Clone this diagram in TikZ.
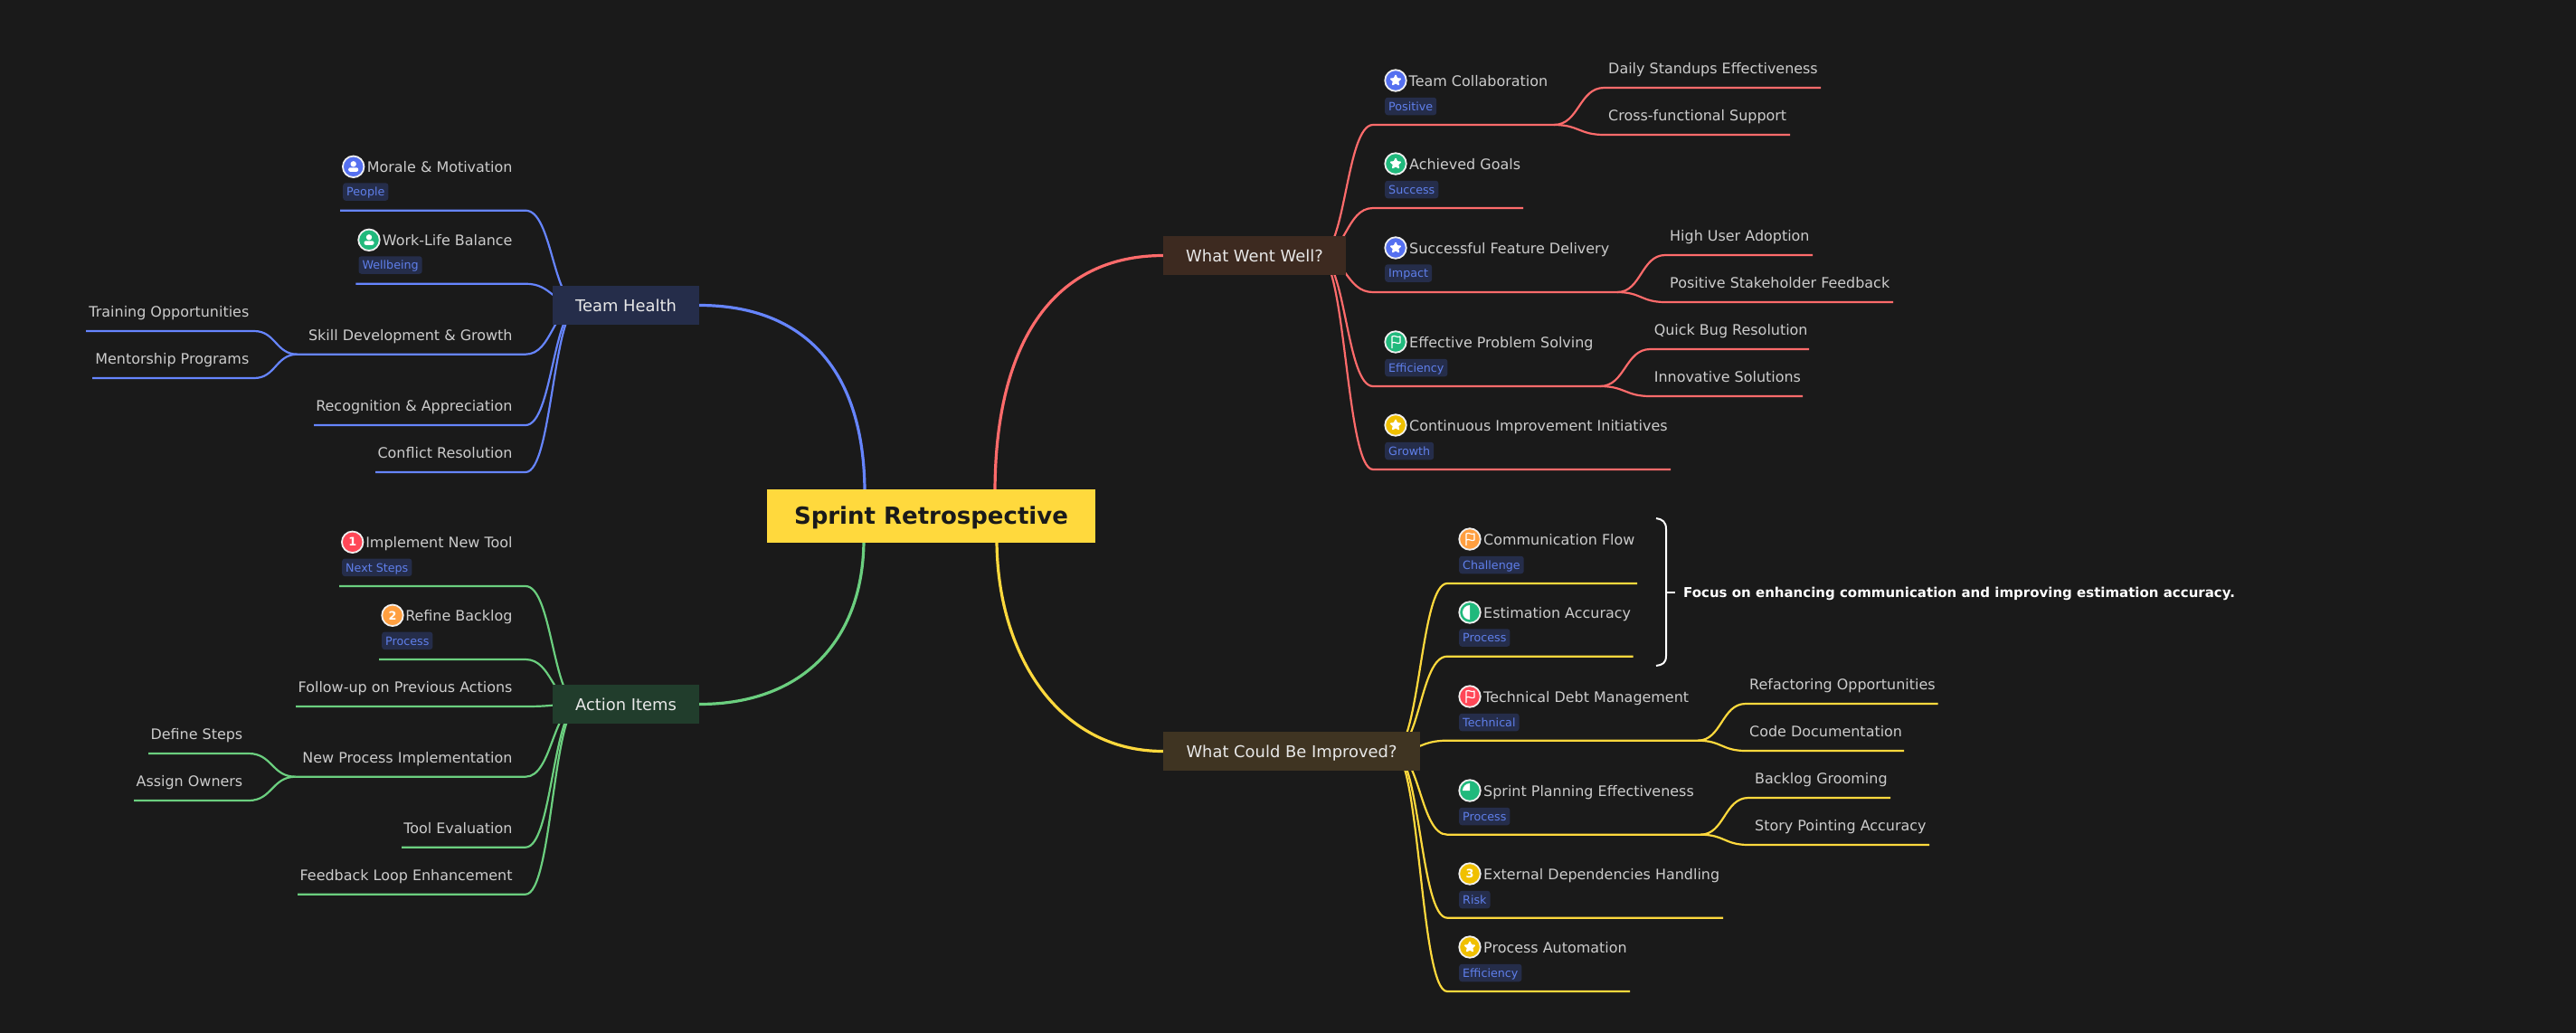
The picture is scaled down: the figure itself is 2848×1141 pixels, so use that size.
\documentclass[tikz,border=0pt]{standalone}
\usepackage{fontspec}
\setmainfont{DejaVu Sans}
\usetikzlibrary{backgrounds, calc, shapes.geometric}

\definecolor{pagebg}{HTML}{1A1A1A}
\definecolor{rootyellow}{HTML}{FFD93D}
\definecolor{redline}{HTML}{FF6B6B}
\definecolor{blueline}{HTML}{6685FF}
\definecolor{greenline}{HTML}{6BCF7F}
\definecolor{thfill}{HTML}{252D4A}
\definecolor{aifill}{HTML}{213D2C}
\definecolor{wwwfill}{HTML}{3D2A20}
\definecolor{wcbifill}{HTML}{3F3422}
\definecolor{tagtext}{HTML}{5F7FEA}
\definecolor{iconblue}{HTML}{5570F0}
\definecolor{icongreen}{HTML}{20B97C}
\definecolor{iconyellow}{HTML}{F0C000}
\definecolor{iconorange}{HTML}{FF9F40}
\definecolor{iconred}{HTML}{FF4757}

\tikzset{
  mindlink/.style={to path={.. controls ($(\tikztostart)!0.5!(\tikztotarget |- \tikztostart)$) and ($(\tikztotarget)!0.5!(\tikztostart |- \tikztotarget)$) .. (\tikztotarget)}},
  topicbox/.style={rectangle, inner sep=0pt, minimum height=43pt, text=black!9, text height=13.6pt, text depth=0pt, font=\fontsize{17.9}{20}\selectfont},
  leaftext/.style={inner sep=0pt, text=black!20, text height=12pt, text depth=0pt, font=\fontsize{15.95}{19}\selectfont},
  tagbox/.style={rectangle, rounded corners=3pt, fill=thfill, text=tagtext, inner xsep=4pt, inner ysep=0pt, minimum height=19.5pt, text height=9.4pt, text depth=0pt, anchor=west, font=\fontsize{12.7}{15}\selectfont},
  iconbox/.style={circle, draw=black!6, line width=1.8pt, inner sep=0pt, minimum size=23.5pt, text=white, font=\bfseries\fontsize{12.8}{15}\selectfont},
  starmark/.style={star, star points=5, star point ratio=2.1, inner sep=0pt, minimum size=11pt, fill=white, draw=white, line width=1.6pt, line join=round},
  flagmark/.pic={
    \draw[white, line width=1.2pt, line join=round] (-4,7) -- (-4,-6) .. controls (-1,-8) and (2,-4) .. (5,-6) -- (5,1) .. controls (2,3) and (-1,-1) .. (-4,1);
  },
  personmark/.pic={
    \fill[white] (0,-3) circle (3.2pt);
    \fill[white, rounded corners=2pt] (-5.5,5.5) -- (-5.5,1) -- (5.5,1) -- (5.5,5.5) -- cycle;
  },
  halfmark/.pic={
    \fill[white] (0,-8) arc (90:270:8pt) -- cycle;
  },
  piemark/.pic={
    \fill[white] (0,0) -- (-8,0) arc (180:90:8pt) -- cycle;
  },
}

\begin{document}
\begin{tikzpicture}[x=1pt, y=-1pt]
    \useasboundingbox (0,0) rectangle (2848,1141);

    % Centre and the four topics
    \node[rectangle, inner sep=0pt, minimum width=363pt, minimum height=59pt, fill=rootyellow, text=pagebg, text height=22pt, text depth=5pt, font=\bfseries\fontsize{26}{30}\selectfont] (root) at (1029.5,570.5) {Sprint Retrospective};
    \node[topicbox, minimum width=162pt, fill=thfill] (th) at (692,337.5) {Team Health};
    \node[topicbox, minimum width=162pt, fill=aifill] (ai) at (692,778.5) {Action Items};
    \node[topicbox, minimum width=202pt, fill=wwwfill] (www) at (1387,282.5) {What Went Well?};
    \node[topicbox, minimum width=284pt, fill=wcbifill] (wcbi) at (1428,830.5) {What Could Be Improved?};

    % Where the branches leave each topic
    \coordinate (thOut) at ([xshift=30pt]th.west);
    \coordinate (aiOut) at ([xshift=30pt]ai.west);
    \coordinate (wwwOut) at ([xshift=-30pt]www.east);
    \coordinate (wcbiOut) at ([xshift=-30pt]wcbi.east);
    \coordinate (rootA) at (956,545);
    \coordinate (rootB) at (1100,545);
    \coordinate (rootC) at (955,596);
    \coordinate (rootD) at (1102,596);

    % Ends of the underlines, What Went Well?
    \coordinate (tcIn) at (1518,138);      \coordinate (tcEnd) at (1718,138);
    \coordinate (dsIn) at (1773.5,97);     \coordinate (dsEnd) at (2013,97);
    \coordinate (cfIn) at (1773.5,149);    \coordinate (cfEnd) at (1979,149);
    \coordinate (agIn) at (1518,230);      \coordinate (agEnd) at (1684,230);
    \coordinate (sfIn) at (1518,323);      \coordinate (sfEnd) at (1788,323);
    \coordinate (huIn) at (1841,282);      \coordinate (huEnd) at (2004,282);
    \coordinate (psIn) at (1841,334);      \coordinate (psEnd) at (2093,334);
    \coordinate (epIn) at (1518,427);      \coordinate (epEnd) at (1769,427);
    \coordinate (qbIn) at (1824.5,386);    \coordinate (qbEnd) at (2000,386);
    \coordinate (isIn) at (1824.5,438);    \coordinate (isEnd) at (1993,438);
    \coordinate (ciIn) at (1518,519);      \coordinate (ciEnd) at (1847,519);

    % Ends of the underlines, What Could Be Improved?
    \coordinate (cmIn) at (1600,645);      \coordinate (cmEnd) at (1810,645);
    \coordinate (eaIn) at (1600,725.7);    \coordinate (eaEnd) at (1805.6,725.7);
    \coordinate (tdIn) at (1600,818.7);    \coordinate (tdEnd) at (1877,818.7);
    \coordinate (roIn) at (1930,778);      \coordinate (roEnd) at (2142.6,778);
    \coordinate (cdIn) at (1930,830);      \coordinate (cdEnd) at (2105,830);
    \coordinate (spIn) at (1600,922.7);    \coordinate (spEnd) at (1880,922.7);
    \coordinate (bgIn) at (1933,882);      \coordinate (bgEnd) at (2090,882);
    \coordinate (stIn) at (1933,934);      \coordinate (stEnd) at (2133,934);
    \coordinate (exIn) at (1600,1014.7);   \coordinate (exEnd) at (1905,1014.7);
    \coordinate (paIn) at (1600,1096);     \coordinate (paEnd) at (1802,1096);

    % Ends of the underlines, Team Health
    \coordinate (moIn) at (581,232.7);     \coordinate (moEnd) at (376,232.7);
    \coordinate (wlIn) at (581,313.7);     \coordinate (wlEnd) at (393.3,313.7);
    \coordinate (skIn) at (581,391.7);     \coordinate (skEnd) at (328.8,391.7);
    \coordinate (trIn) at (281,366);       \coordinate (trEnd) at (95,366);
    \coordinate (mpIn) at (281,418);       \coordinate (mpEnd) at (102,418);
    \coordinate (rcIn) at (581,470);       \coordinate (rcEnd) at (347,470);
    \coordinate (crIn) at (581,522);       \coordinate (crEnd) at (415,522);

    % Ends of the underlines, Action Items
    \coordinate (inIn) at (581,648);       \coordinate (inEnd) at (375,648);
    \coordinate (rbIn) at (581,729);       \coordinate (rbEnd) at (419,729);
    \coordinate (fuIn) at (581,781);       \coordinate (fuEnd) at (327,781);
    \coordinate (npIn) at (581,858.7);     \coordinate (npEnd) at (326.7,858.7);
    \coordinate (dfIn) at (275,833);       \coordinate (dfEnd) at (164,833);
    \coordinate (aoIn) at (275,885);       \coordinate (aoEnd) at (148,885);
    \coordinate (teIn) at (581,936.7);     \coordinate (teEnd) at (444,936.7);
    \coordinate (fbIn) at (581,988.7);     \coordinate (fbEnd) at (329,988.7);

    \begin{scope}[on background layer]
        \fill[pagebg] (-6,-6) rectangle (2854,1147);

        % Main curves
        \draw[blueline, line width=3.2pt] (th.east) .. controls (890,337.5) and (956,410) .. (rootA);
        \draw[greenline, line width=3.2pt] (ai.east) .. controls (890,778.5) and (955,705) .. (rootC);
        \draw[redline, line width=3.2pt] (www.west) .. controls (1167,282.5) and (1100,375) .. (rootB);
        \draw[rootyellow, line width=3.2pt] (wcbi.west) .. controls (1169,830.5) and (1102,722) .. (rootD);

        % Red branches
        \begin{scope}[redline, line width=2.2pt]
            \draw (wwwOut) to[mindlink] (tcIn) -- (tcEnd);
            \draw (tcEnd) to[mindlink] (dsIn) -- (dsEnd);
            \draw (tcEnd) to[mindlink] (cfIn) -- (cfEnd);
            \draw (wwwOut) to[mindlink] (agIn) -- (agEnd);
            \draw (wwwOut) to[mindlink] (sfIn) -- (sfEnd);
            \draw (sfEnd) to[mindlink] (huIn) -- (huEnd);
            \draw (sfEnd) to[mindlink] (psIn) -- (psEnd);
            \draw (wwwOut) to[mindlink] (epIn) -- (epEnd);
            \draw (epEnd) to[mindlink] (qbIn) -- (qbEnd);
            \draw (epEnd) to[mindlink] (isIn) -- (isEnd);
            \draw (wwwOut) to[mindlink] (ciIn) -- (ciEnd);
        \end{scope}

        % Yellow branches
        \begin{scope}[rootyellow, line width=2.2pt]
            \draw (wcbiOut) to[mindlink] (cmIn) -- (cmEnd);
            \draw (wcbiOut) to[mindlink] (eaIn) -- (eaEnd);
            \draw (wcbiOut) to[mindlink] (tdIn) -- (tdEnd);
            \draw (tdEnd) to[mindlink] (roIn) -- (roEnd);
            \draw (tdEnd) to[mindlink] (cdIn) -- (cdEnd);
            \draw (wcbiOut) to[mindlink] (spIn) -- (spEnd);
            \draw (spEnd) to[mindlink] (bgIn) -- (bgEnd);
            \draw (spEnd) to[mindlink] (stIn) -- (stEnd);
            \draw (wcbiOut) to[mindlink] (exIn) -- (exEnd);
            \draw (wcbiOut) to[mindlink] (paIn) -- (paEnd);
        \end{scope}

        % Blue branches
        \begin{scope}[blueline, line width=2.2pt]
            \draw (thOut) to[mindlink] (moIn) -- (moEnd);
            \draw (thOut) to[mindlink] (wlIn) -- (wlEnd);
            \draw (thOut) to[mindlink] (skIn) -- (skEnd);
            \draw (skEnd) to[mindlink] (trIn) -- (trEnd);
            \draw (skEnd) to[mindlink] (mpIn) -- (mpEnd);
            \draw (thOut) to[mindlink] (rcIn) -- (rcEnd);
            \draw (thOut) to[mindlink] (crIn) -- (crEnd);
        \end{scope}

        % Green branches
        \begin{scope}[greenline, line width=2.2pt]
            \draw (aiOut) to[mindlink] (inIn) -- (inEnd);
            \draw (aiOut) to[mindlink] (rbIn) -- (rbEnd);
            \draw (aiOut) to[mindlink] (fuIn) -- (fuEnd);
            \draw (aiOut) to[mindlink] (npIn) -- (npEnd);
            \draw (npEnd) to[mindlink] (dfIn) -- (dfEnd);
            \draw (npEnd) to[mindlink] (aoIn) -- (aoEnd);
            \draw (aiOut) to[mindlink] (teIn) -- (teEnd);
            \draw (aiOut) to[mindlink] (fbIn) -- (fbEnd);
        \end{scope}
    \end{scope}

    % What Went Well? leaves
    \node[iconbox, fill=iconblue] (tcIcon) at (1543,89) {};
    \node[starmark] (tcStar) at (tcIcon) {};
    \node[leaftext, anchor=west] (tcText) at (1557.5,89) {Team Collaboration};
    \node[tagbox] (tcTag) at (1531,117.5) {Positive};
    \node[leaftext, anchor=west] (dsText) at (1778,75) {Daily Standups Effectiveness};
    \node[leaftext, anchor=west] (cfText) at (1778,127) {Cross-functional Support};

    \node[iconbox, fill=icongreen] (agIcon) at (1543,181) {};
    \node[starmark] (agStar) at (agIcon) {};
    \node[leaftext, anchor=west] (agText) at (1558,181) {Achieved Goals};
    \node[tagbox] (agTag) at (1531,209.5) {Success};

    \node[iconbox, fill=iconblue] (sfIcon) at (1543,274) {};
    \node[starmark] (sfStar) at (sfIcon) {};
    \node[leaftext, anchor=west] (sfText) at (1558,274) {Successful Feature Delivery};
    \node[tagbox] (sfTag) at (1531,302) {Impact};
    \node[leaftext, anchor=west] (huText) at (1846,260) {High User Adoption};
    \node[leaftext, anchor=west] (psText) at (1846,312) {Positive Stakeholder Feedback};

    \node[iconbox, fill=icongreen] (epIcon) at (1543,378) {};
    \pic at (epIcon) {flagmark};
    \node[leaftext, anchor=west] (epText) at (1558,378) {Effective Problem Solving};
    \node[tagbox] (epTag) at (1531,406.5) {Efficiency};
    \node[leaftext, anchor=west] (qbText) at (1828.6,364) {Quick Bug Resolution};
    \node[leaftext, anchor=west] (isText) at (1828.6,416) {Innovative Solutions};

    \node[iconbox, fill=iconyellow] (ciIcon) at (1543,470) {};
    \node[starmark] (ciStar) at (ciIcon) {};
    \node[leaftext, anchor=west] (ciText) at (1558,470) {Continuous Improvement Initiatives};
    \node[tagbox] (ciTag) at (1531,498.5) {Growth};

    % What Could Be Improved? leaves
    \node[iconbox, fill=iconorange] (cmIcon) at (1625,596) {};
    \pic at (cmIcon) {flagmark};
    \node[leaftext, anchor=west] (cmText) at (1640,596) {Communication Flow};
    \node[tagbox] (cmTag) at (1613,624.5) {Challenge};

    \node[iconbox, fill=icongreen] (eaIcon) at (1625,677) {};
    \pic at (eaIcon) {halfmark};
    \node[leaftext, anchor=west] (eaText) at (1640,677) {Estimation Accuracy};
    \node[tagbox] (eaTag) at (1613,705) {Process};

    \node[iconbox, fill=iconred] (tdIcon) at (1625,770) {};
    \pic at (tdIcon) {flagmark};
    \node[leaftext, anchor=west] (tdText) at (1640,770) {Technical Debt Management};
    \node[tagbox] (tdTag) at (1613,798.5) {Technical};
    \node[leaftext, anchor=west] (roText) at (1934,756) {Refactoring Opportunities};
    \node[leaftext, anchor=west] (cdText) at (1934,808) {Code Documentation};

    \node[iconbox, fill=icongreen] (spIcon) at (1625,874) {};
    \pic at (spIcon) {piemark};
    \node[leaftext, anchor=west] (spText) at (1640,874) {Sprint Planning Effectiveness};
    \node[tagbox] (spTag) at (1613,902.5) {Process};
    \node[leaftext, anchor=west] (bgText) at (1940,860) {Backlog Grooming};
    \node[leaftext, anchor=west] (stText) at (1940,912) {Story Pointing Accuracy};

    \node[iconbox, fill=iconyellow] (exIcon) at (1625,966) {3};
    \node[leaftext, anchor=west] (exText) at (1640,966) {External Dependencies Handling};
    \node[tagbox] (exTag) at (1613,994.5) {Risk};

    \node[iconbox, fill=iconyellow] (paIcon) at (1625,1047) {};
    \node[starmark] (paStar) at (paIcon) {};
    \node[leaftext, anchor=west] (paText) at (1640,1047) {Process Automation};
    \node[tagbox] (paTag) at (1613,1075.5) {Efficiency};

    % Bracket with its note
    \coordinate (brTop) at (1831,573);
    \coordinate (brBot) at (1831,736);
    \coordinate (brMid) at (1842,655);
    \node[inner sep=0pt, anchor=west, text=white, font=\bfseries\fontsize{15}{18}\selectfont] (noteText) at (1861,656) {Focus on enhancing communication and improving estimation accuracy.};
    \draw[white, line width=2pt] (brTop) .. controls (1838,574) and (1842,577) .. (1842,585) -- (1842,725) .. controls (1842,733) and (1838,735) .. (brBot);
    \draw[white, line width=2pt] (brMid) -- ([xshift=-9pt]noteText.west |- brMid);

    % Team Health leaves
    \node[iconbox, fill=iconblue] (moIcon) at (390.7,184.3) {};
    \pic at (moIcon) {personmark};
    \node[leaftext, anchor=east] (moText) at (566.7,184.3) {Morale \& Motivation};
    \node[tagbox] (moTag) at (379,212) {People};

    \node[iconbox, fill=icongreen] (wlIcon) at (408,265.3) {};
    \pic at (wlIcon) {personmark};
    \node[leaftext, anchor=east] (wlText) at (566.7,265.3) {Work-Life Balance};
    \node[tagbox] (wlTag) at (396.3,293) {Wellbeing};

    \node[leaftext, anchor=east] (skText) at (566.7,370) {Skill Development \& Growth};
    \node[leaftext, anchor=east] (trText) at (275.5,344) {Training Opportunities};
    \node[leaftext, anchor=east] (mpText) at (275.5,396) {Mentorship Programs};
    \node[leaftext, anchor=east] (rcText) at (566.7,448) {Recognition \& Appreciation};
    \node[leaftext, anchor=east] (crText) at (566.7,500) {Conflict Resolution};

    % Action Items leaves
    \node[iconbox, fill=iconred] (inIcon) at (389.7,599.3) {1};
    \node[leaftext, anchor=east] (inText) at (566.7,599.3) {Implement New Tool};
    \node[tagbox] (inTag) at (378,627.3) {Next Steps};

    \node[iconbox, fill=iconorange] (rbIcon) at (434,680.3) {2};
    \node[leaftext, anchor=east] (rbText) at (566.7,680.3) {Refine Backlog};
    \node[tagbox] (rbTag) at (422,708.3) {Process};

    \node[leaftext, anchor=east] (fuText) at (566.7,759.3) {Follow-up on Previous Actions};
    \node[leaftext, anchor=east] (npText) at (566.7,837.3) {New Process Implementation};
    \node[leaftext, anchor=east] (dfText) at (268.5,811.3) {Define Steps};
    \node[leaftext, anchor=east] (aoText) at (268.5,863.3) {Assign Owners};
    \node[leaftext, anchor=east] (teText) at (566.7,915.3) {Tool Evaluation};
    \node[leaftext, anchor=east] (fbText) at (566.7,967.3) {Feedback Loop Enhancement};

\end{tikzpicture}
\end{document}
